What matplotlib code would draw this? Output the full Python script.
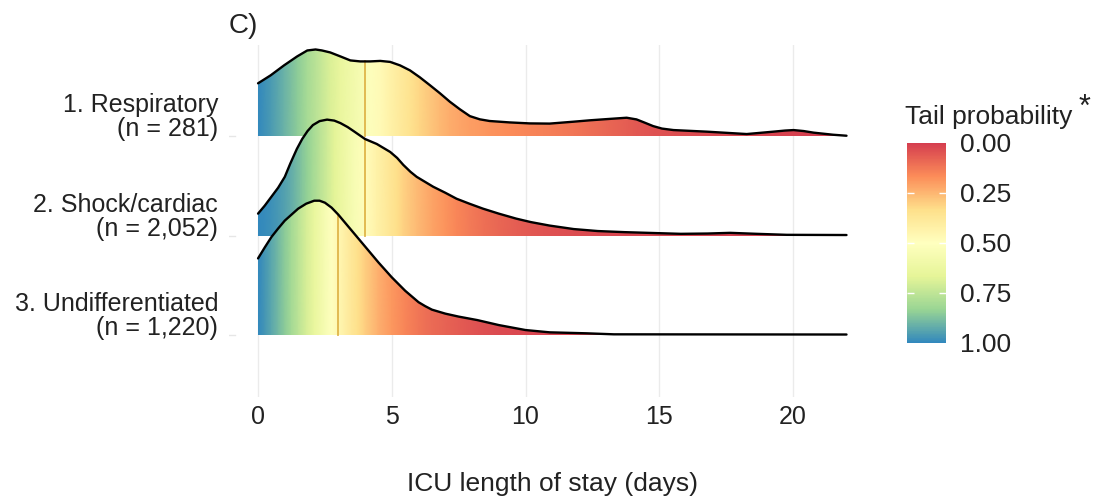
import numpy as np
import matplotlib
matplotlib.use('Agg')
import matplotlib.pyplot as plt
from matplotlib import transforms
from matplotlib.colors import LinearSegmentedColormap, Normalize
from matplotlib.cm import ScalarMappable
from matplotlib.patches import Polygon

plt.rcParams['font.family'] = ['Liberation Sans', 'DejaVu Sans']

# etykiety grup (od gory)
grupy = ['1. Respiratory\n(n = 281)', '2. Shock/cardiac\n(n = 2,052)', '3. Undifferentiated\n(n = 1,220)']
mediany = [4, 4, 3]

# gestosci (wysokosc w jednostkach odstepu miedzy wierszami)
x_resp = [0, 0.47, 0.97, 1.46, 1.84, 2.15, 2.39, 2.70, 3.08, 3.45, 3.82, 4.19, 4.57, 4.94, 5.31, 5.68,
          6.05, 6.43, 6.80, 7.17, 7.54, 7.92, 8.29, 8.66, 9.4, 10.15, 10.9, 11.79, 12.4, 13.03, 13.78,
          14.15, 14.45, 14.77, 15.1, 15.53, 16.77, 18.27, 19.27, 19.7, 20.02, 20.4, 20.77, 21.5, 22.0]
h_resp = [0.53, 0.61, 0.71, 0.80, 0.86, 0.87, 0.86, 0.84, 0.80, 0.76, 0.75, 0.75, 0.755, 0.745, 0.71, 0.66,
          0.59, 0.51, 0.43, 0.345, 0.27, 0.20, 0.168, 0.151, 0.137, 0.127, 0.125, 0.144, 0.158, 0.17, 0.184,
          0.167, 0.135, 0.10, 0.075, 0.06, 0.044, 0.02, 0.044, 0.055, 0.06, 0.05, 0.034, 0.013, 0.003]

x_shock = [0, 0.25, 0.5, 0.75, 1.0, 1.2, 1.45, 1.65, 1.85, 2.05, 2.3, 2.58, 2.85, 3.08, 3.35, 3.57, 4.0,
           4.44, 4.94, 5.2, 5.43, 5.7, 5.93, 6.55, 7.0, 7.42, 7.9, 8.41, 9.0, 9.65, 10.2, 10.9, 11.8,
           12.7, 13.7, 15.8, 16.8, 17.65, 18.65, 19.77, 22.0]
h_shock = [0.22, 0.30, 0.39, 0.48, 0.59, 0.72, 0.87, 0.97, 1.05, 1.11, 1.15, 1.165, 1.155, 1.13, 1.09, 1.05, 0.97,
           0.92, 0.84, 0.78, 0.71, 0.64, 0.59, 0.49, 0.43, 0.37, 0.32, 0.27, 0.22, 0.17, 0.135, 0.10, 0.065,
           0.045, 0.034, 0.017, 0.02, 0.027, 0.017, 0.007, 0.005]

x_undiff = [0, 0.25, 0.5, 0.75, 1.0, 1.25, 1.5, 1.8, 2.1, 2.3, 2.5, 2.75, 3.0, 3.25, 3.5, 3.75, 4.0,
            4.5, 5.0, 5.5, 6.0, 6.25, 6.5, 7.0, 7.5, 8.2, 9.0, 9.5, 10.0, 10.9, 12.3, 13.3, 22.0]
h_undiff = [0.77, 0.88, 0.985, 1.07, 1.15, 1.21, 1.27, 1.32, 1.35, 1.35, 1.33, 1.28, 1.21, 1.13, 1.05, 0.97, 0.89,
            0.73, 0.58, 0.445, 0.33, 0.29, 0.255, 0.215, 0.185, 0.15, 0.10, 0.075, 0.05, 0.027, 0.017, 0.007, 0.005]

xTicks = [0, 5, 10, 15, 20]
cbTicks = [0, 0.25, 0.5, 0.75, 1.0]
cbLabels = ['0.00', '0.25', '0.50', '0.75', '1.00']

paleta = ['#d53e4f', '#fc8d59', '#fee08b', '#ffffbf', '#e6f598', '#99d594', '#3288bd']
cmap = LinearSegmentedColormap.from_list('spectral7', paleta)
norm = Normalize(0, 1)

fig = plt.figure(figsize=(10.96, 5), dpi=100)
ax = fig.add_axes([0.2086, 0.206, 0.5906, 0.704])
ax.set_xlim(-1.1, 23.1)
ax.set_ylim(-0.623, 2.915)

for s in ax.spines.values():
    s.set_visible(False)

ax.set_xticks(xTicks)
ax.set_xticklabels([str(t) for t in xTicks], fontsize=18, color='#222222')
ax.tick_params(axis='x', length=0, pad=6)
ax.set_yticks([])
ax.grid(axis='x', color='#ebebeb', linewidth=1.0, zorder=0)
ax.set_axisbelow(True)

dane = [(x_resp, h_resp), (x_shock, h_shock), (x_undiff, h_undiff)]
pozycje = [2, 1, 0]

trans_lab = transforms.blended_transform_factory(ax.transAxes, ax.transData)

for i, ((xs, hs), y0) in enumerate(zip(dane, pozycje)):
    xs = np.array(xs, dtype=float)
    hs = np.array(hs, dtype=float)
    ax.plot([-1.1, -0.85], [y0, y0], color='#e6e6e6', linewidth=1.0, zorder=0.5)

    # prawdopodobienstwo ogona z odczytanej gestosci
    skum = np.concatenate([[0], np.cumsum((hs[1:] + hs[:-1]) / 2 * np.diff(xs))])
    ogon = 1 - skum / skum[-1]

    z = 3 + 3 * i
    wierzcholki = [(xs[0], y0)] + list(zip(xs, y0 + hs)) + [(xs[-1], y0)]
    poly = Polygon(wierzcholki, closed=True, facecolor='none', edgecolor='none')
    ax.add_patch(poly)
    X = np.vstack([xs, xs])
    Y = np.vstack([np.full_like(xs, y0), np.full_like(xs, y0 + hs.max() + 0.05)])
    C = np.vstack([ogon, ogon])
    mesh = ax.pcolormesh(X, Y, C, cmap=cmap, norm=norm, shading='gouraud', zorder=z,
                         edgecolors='none', antialiased=False)
    mesh.set_clip_path(poly)

    m = mediany[i]
    ax.plot([m, m], [y0, y0 + np.interp(m, xs, hs)], color='#dfb54a', linewidth=1.3, zorder=z + 1)
    ax.plot(xs, y0 + hs, color='black', linewidth=1.7, zorder=z + 2,
            solid_capstyle='round', solid_joinstyle='round')

    ax.text(-0.0164, y0 - 0.05, grupy[i], transform=trans_lab, ha='right', va='bottom',
            fontsize=18, linespacing=1.0, color='#222222')

ax.set_xlabel('ICU length of stay (days)', fontsize=19, color='#222222')
ax.xaxis.set_label_coords(0.5, -0.212)

fig.text(229 / 1096, 1 - 26 / 500, 'C)', fontsize=20, ha='left', va='center', color='#222222')

# pasek kolorow
cax = fig.add_axes([0.8275, 0.314, 0.0356, 0.4])
sm = ScalarMappable(norm=norm, cmap=cmap)
cb = fig.colorbar(sm, cax=cax)
cb.set_ticks(cbTicks)
cb.set_ticklabels(cbLabels)
cb.outline.set_visible(False)
cax.invert_yaxis()
cax.tick_params(length=0, labelsize=19, pad=10, labelcolor='#222222')
for t in cbTicks[1:-1]:
    cax.hlines(t, 0, 0.18, color='white', linewidth=1)
    cax.hlines(t, 0.82, 1, color='white', linewidth=1)

fig.text(905 / 1096, 1 - 117 / 500, 'Tail probability', fontsize=19, ha='left', va='center', color='#222222')
fig.text(1079 / 1096, 1 - 108 / 500, '*', fontsize=22, ha='left', va='center', color='#222222')

fig.savefig('out.png', dpi=100)
